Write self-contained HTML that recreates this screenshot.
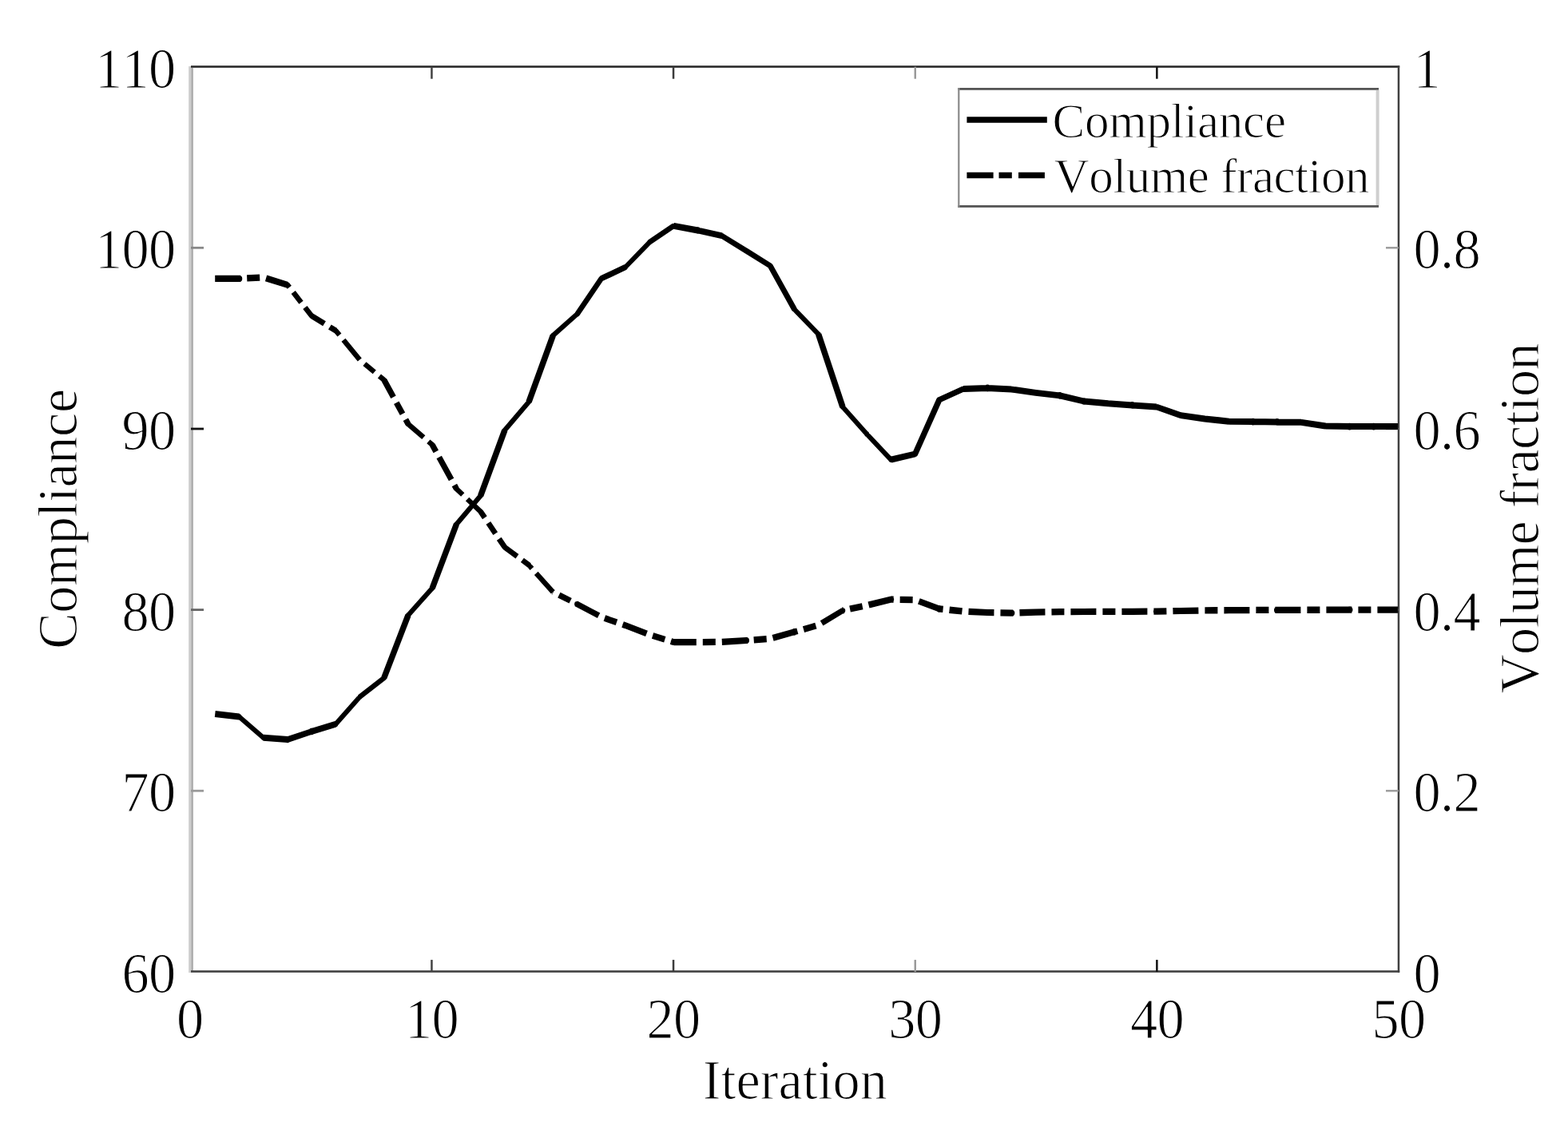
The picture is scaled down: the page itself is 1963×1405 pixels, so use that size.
<!DOCTYPE html>
<html lang="en"><head><meta charset="utf-8"><title>Compliance and volume fraction vs. iteration</title>
<style>
html,body{margin:0;padding:0;background:#fff;}
body{width:1963px;height:1405px;overflow:hidden;}
svg{display:block;position:absolute;left:0;top:0;}
text{font-family:"Liberation Serif","Times New Roman",Times,serif;fill:#000;font-kerning:none;font-variant-ligatures:none;stroke:#fff;stroke-width:1.1px;stroke-linejoin:round;paint-order:fill stroke;}
.tk{font-size:68.4px;letter-spacing:-0.7px;}
.lb{font-size:68.2px;letter-spacing:-0.3px;}
.lg{font-size:61.1px;letter-spacing:-0.3px;}
</style></head><body>
<svg width="1963" height="1405" viewBox="0 0 1963 1405" role="img" aria-label="Compliance and volume fraction versus iteration">
<rect x="0" y="0" width="1963" height="1405" fill="#ffffff"/>
<g id="plot">
<rect x="0" y="0" width="1963" height="1405" fill="#ffffff"/>
<g id="axes">
<rect x="236.2" y="83" width="3" height="1135" fill="#cdcdcd"/>
<rect x="239.2" y="85" width="2.7" height="1131" fill="#adadad"/>
<rect x="239" y="82.2" width="1513.2" height="2.6" fill="#2a2a2a"/>
<rect x="1749.7" y="82.2" width="2.5" height="1135.6" fill="#404040"/>
<rect x="239" y="1215.2" width="1513.2" height="2.6" fill="#404040"/>
</g>
<g id="ticks">
<rect x="539.2" y="1201.9" width="2.5" height="15.0" fill="#444"/>
<rect x="539.2" y="83.7" width="2.5" height="15.0" fill="#444"/>
<rect x="841.8" y="1201.9" width="2.5" height="15.0" fill="#3c3c3c"/>
<rect x="841.8" y="83.7" width="2.5" height="15.0" fill="#3c3c3c"/>
<rect x="1144.5" y="1201.9" width="2.5" height="15.0" fill="#9a9a9a"/>
<rect x="1144.5" y="83.7" width="2.5" height="15.0" fill="#9a9a9a"/>
<rect x="1447.1" y="1201.9" width="2.5" height="15.0" fill="#111"/>
<rect x="1447.1" y="83.7" width="2.5" height="15.0" fill="#111"/>
<rect x="239" y="988.9" width="16" height="2.8" fill="#9a9a9a"/>
<rect x="1735.0" y="989.1" width="16" height="2.4" fill="#9a9a9a"/>
<rect x="239" y="762.2" width="16" height="2.8" fill="#666"/>
<rect x="1735.0" y="762.4" width="16" height="2.4" fill="#666"/>
<rect x="239" y="535.6" width="16" height="2.8" fill="#111"/>
<rect x="1735.0" y="535.8" width="16" height="2.4" fill="#666"/>
<rect x="239" y="308.9" width="16" height="2.8" fill="#888"/>
<rect x="1735.0" y="309.1" width="16" height="2.4" fill="#9a9a9a"/>
</g>
<g id="curves" fill="#000" stroke="#000" stroke-linejoin="round" stroke-linecap="butt">
<path id="vol" stroke="none" d="M269.2 344.8L299.4 344.8L299.4 353.0L269.2 353.0ZM295.5 348.9a3.9 3.9 0 1 1 7.8 0a3.9 3.9 0 1 1 -7.8 0ZM299.2 344.8L301.0 344.7L301.4 353.0L299.6 353.0ZM309.0 344.3L325.0 343.5L325.4 351.8L309.4 352.6ZM334.2 344.6L361.0 352.9L358.7 360.5L331.9 352.2ZM356.8 356.7a3.1 3.1 0 1 1 6.2 0a3.1 3.1 0 1 1 -6.2 0ZM362.5 354.7L364.9 357.8L359.7 361.8L357.3 358.7ZM369.8 364.1L379.6 376.7L374.4 380.7L364.6 368.1ZM384.5 383.0L392.7 393.6L387.5 397.6L379.3 387.1ZM387.0 395.6a3.1 3.1 0 1 1 6.2 0a3.1 3.1 0 1 1 -6.2 0ZM391.9 392.6L407.9 402.3L404.2 408.3L388.3 398.6ZM414.7 406.4L422.2 411.0L418.5 417.0L411.0 412.5ZM417.3 414.0a3.0 3.0 0 1 1 6.0 0a3.0 3.0 0 1 1 -6.0 0ZM422.8 412.0L427.4 417.6L422.5 421.6L417.8 416.0ZM432.5 423.8L452.8 448.5L447.8 452.6L427.5 427.8ZM458.5 453.2L470.8 463.4L466.7 468.3L454.4 458.1ZM477.0 468.5L482.8 473.3L478.7 478.3L472.9 473.4ZM477.8 475.8a3.0 3.0 0 1 1 6.0 0a3.0 3.0 0 1 1 -6.0 0ZM484.0 474.1L495.7 495.5L489.3 499.0L477.6 477.5ZM499.5 502.5L507.2 516.5L500.8 520.0L493.1 506.0ZM511.0 523.5L514.2 529.3L507.8 532.7L504.7 527.0ZM508.0 531.0a3.0 3.0 0 1 1 5.9 0a3.0 3.0 0 1 1 -5.9 0ZM513.0 528.6L532.4 545.2L528.2 550.0L508.9 533.4ZM538.4 550.5L543.3 554.6L539.1 559.4L534.3 555.2ZM538.2 557.0a3.0 3.0 0 1 1 5.9 0a3.0 3.0 0 1 1 -5.9 0ZM544.4 555.3L549.0 563.7L542.6 567.2L538.0 558.7ZM552.9 570.7L568.3 598.8L561.9 602.3L546.5 574.2ZM572.1 605.8L574.6 610.4L568.2 613.8L565.7 609.3ZM568.5 612.1a3.0 3.0 0 1 1 5.9 0a3.0 3.0 0 1 1 -5.9 0ZM573.6 609.8L581.4 617.2L577.1 621.8L569.3 614.4ZM587.3 622.7L603.8 638.3L599.5 642.9L582.9 627.3ZM598.7 640.6a3.0 3.0 0 1 1 5.9 0a3.0 3.0 0 1 1 -5.9 0ZM604.5 638.7L609.7 646.3L604.0 650.2L598.8 642.5ZM614.2 653.0L623.1 666.2L617.4 670.1L608.5 656.8ZM627.6 672.8L634.7 683.3L629.0 687.1L621.9 676.7ZM628.7 685.2a3.1 3.1 0 1 1 6.3 0a3.1 3.1 0 1 1 -6.3 0ZM633.8 682.5L649.4 694.0L645.5 699.4L629.9 687.9ZM655.9 698.8L664.1 704.8L660.1 710.2L651.9 704.1ZM659.1 707.5a3.0 3.0 0 1 1 5.9 0a3.0 3.0 0 1 1 -5.9 0ZM664.4 705.4L668.3 709.7L663.6 713.9L659.7 709.6ZM673.6 715.7L694.7 739.2L689.9 743.4L668.9 719.9ZM694.0 738.0L694.4 738.2L691.1 744.8L690.6 744.6ZM701.5 741.8L715.8 749.0L712.5 755.6L698.2 748.4ZM723.0 752.6L724.2 753.2L720.9 759.8L719.6 759.2ZM719.1 756.5a3.4 3.4 0 1 1 6.9 0a3.4 3.4 0 1 1 -6.9 0ZM724.2 753.3L751.3 767.6L747.9 774.1L720.8 759.7ZM758.2 770.3L773.3 775.6L770.7 783.0L755.6 777.7ZM780.9 778.3L784.3 779.5L781.7 786.9L778.3 785.7ZM779.3 783.2a3.6 3.6 0 1 1 7.3 0a3.6 3.6 0 1 1 -7.3 0ZM784.3 779.6L810.9 789.8L808.1 797.0L781.6 786.8ZM818.2 792.2L833.5 796.9L831.2 804.5L815.9 799.8ZM841.1 799.3L844.6 800.3L842.2 807.9L838.8 806.8ZM839.7 804.1a3.7 3.7 0 1 1 7.5 0a3.7 3.7 0 1 1 -7.5 0ZM843.4 800.0L871.8 800.0L871.8 808.2L843.4 808.2ZM879.8 799.9L895.8 799.7L895.8 808.0L879.8 808.2ZM903.8 799.7L903.8 799.7L903.9 807.9L903.8 807.9ZM903.6 799.7L933.8 797.9L934.3 806.1L904.1 807.9ZM930.2 802.0a3.9 3.9 0 1 1 7.8 0a3.9 3.9 0 1 1 -7.8 0ZM933.8 797.9L935.4 797.7L936.0 806.0L934.4 806.1ZM943.4 797.2L959.4 796.0L960.0 804.3L944.0 805.4ZM966.5 795.0L993.4 787.5L995.6 795.1L968.6 802.7ZM990.7 791.3a3.8 3.8 0 1 1 7.5 0a3.8 3.8 0 1 1 -7.5 0ZM993.4 787.5L997.3 786.4L999.4 794.0L995.6 795.1ZM1004.9 784.2L1020.3 779.8L1022.5 787.5L1007.1 791.9ZM1026.8 777.3L1053.1 761.5L1056.8 767.5L1030.5 783.4ZM1051.6 764.5a3.3 3.3 0 1 1 6.7 0a3.3 3.3 0 1 1 -6.7 0ZM1054.1 760.5L1055.4 760.3L1057.1 768.2L1055.8 768.5ZM1063.2 758.6L1078.9 755.3L1080.5 763.2L1064.9 766.5ZM1086.5 753.6L1114.4 746.7L1116.4 754.5L1088.5 761.4ZM1111.6 750.6a3.8 3.8 0 1 1 7.6 0a3.8 3.8 0 1 1 -7.6 0ZM1115.5 746.5L1118.7 746.5L1118.6 754.8L1115.3 754.7ZM1126.7 746.7L1142.7 747.0L1142.6 755.3L1126.6 755.0ZM1151.7 749.3L1177.2 758.8L1174.5 766.0L1149.0 756.6ZM1172.2 762.4a3.7 3.7 0 1 1 7.3 0a3.7 3.7 0 1 1 -7.3 0ZM1176.3 758.3L1181.0 758.8L1180.2 767.0L1175.4 766.5ZM1189.0 759.6L1204.9 761.3L1204.0 769.5L1188.1 767.9ZM1212.7 761.8L1236.5 762.9L1236.1 771.1L1212.3 770.0ZM1232.4 767.0a3.9 3.9 0 1 1 7.8 0a3.9 3.9 0 1 1 -7.8 0ZM1236.3 762.9L1244.5 763.0L1244.4 771.3L1236.2 771.1ZM1252.5 763.2L1266.6 763.5L1266.4 771.7L1252.4 771.5ZM1262.6 767.6a3.9 3.9 0 1 1 7.8 0a3.9 3.9 0 1 1 -7.8 0ZM1266.3 763.5L1268.3 763.4L1268.6 771.7L1266.6 771.7ZM1276.3 763.1L1296.6 762.5L1296.8 770.7L1276.6 771.4ZM1292.8 766.6a3.9 3.9 0 1 1 7.8 0a3.9 3.9 0 1 1 -7.8 0ZM1296.6 762.5L1308.4 762.3L1308.5 770.6L1296.8 770.7ZM1316.4 762.2L1326.9 762.1L1327.0 770.3L1316.5 770.5ZM1323.0 766.2a3.9 3.9 0 1 1 7.8 0a3.9 3.9 0 1 1 -7.8 0ZM1326.9 762.1L1332.4 762.0L1332.4 770.3L1326.9 770.3ZM1340.4 762.0L1357.1 761.9L1357.2 770.1L1340.4 770.3ZM1353.2 766.0a3.9 3.9 0 1 1 7.8 0a3.9 3.9 0 1 1 -7.8 0ZM1357.1 761.9L1372.4 761.8L1372.4 770.1L1357.2 770.1ZM1380.4 761.8L1387.3 761.8L1387.4 770.0L1380.4 770.1ZM1383.5 765.9a3.9 3.9 0 1 1 7.8 0a3.9 3.9 0 1 1 -7.8 0ZM1387.3 761.8L1396.4 761.7L1396.4 770.0L1387.4 770.0ZM1404.4 761.7L1417.6 761.7L1417.6 769.9L1404.4 770.0ZM1413.7 765.8a3.9 3.9 0 1 1 7.8 0a3.9 3.9 0 1 1 -7.8 0ZM1417.6 761.7L1436.4 761.5L1436.4 769.8L1417.6 769.9ZM1444.4 761.5L1447.8 761.5L1447.8 769.7L1444.4 769.8ZM1443.9 765.6a3.9 3.9 0 1 1 7.8 0a3.9 3.9 0 1 1 -7.8 0ZM1447.7 761.5L1460.3 761.2L1460.5 769.5L1447.9 769.7ZM1468.3 761.0L1477.9 760.9L1478.1 769.1L1468.5 769.3ZM1474.1 765.0a3.9 3.9 0 1 1 7.8 0a3.9 3.9 0 1 1 -7.8 0ZM1477.9 760.9L1500.3 760.4L1500.5 768.7L1478.1 769.1ZM1508.4 760.2L1524.4 760.1L1524.4 768.4L1508.4 768.5ZM1532.4 760.1L1538.4 760.1L1538.5 768.3L1532.4 768.4ZM1534.6 764.2a3.9 3.9 0 1 1 7.8 0a3.9 3.9 0 1 1 -7.8 0ZM1538.4 760.1L1564.4 759.9L1564.4 768.2L1538.5 768.3ZM1572.4 759.8L1588.4 759.8L1588.4 768.1L1572.4 768.1ZM1596.4 759.8L1598.9 759.8L1598.9 768.0L1596.4 768.1ZM1595.0 763.9a3.9 3.9 0 1 1 7.8 0a3.9 3.9 0 1 1 -7.8 0ZM1598.9 759.8L1628.4 759.7L1628.4 768.0L1598.9 768.0ZM1636.4 759.6L1652.4 759.6L1652.4 767.9L1636.4 767.9ZM1660.4 759.5L1689.5 759.5L1689.6 767.7L1660.4 767.8ZM1685.7 763.6a3.9 3.9 0 1 1 7.8 0a3.9 3.9 0 1 1 -7.8 0ZM1689.6 759.5L1692.4 759.5L1692.4 767.8L1689.6 767.8ZM1700.4 759.5L1716.4 759.5L1716.4 767.8L1700.4 767.8ZM1724.4 759.5L1750.0 759.5L1750.0 767.8L1724.4 767.8Z"/>
<path id="comp" stroke="none" d="M269.7 890.1L299.9 893.6L299.0 901.4L268.8 897.9ZM296.6 897.5a2.9 2.9 0 1 1 5.7 0a2.9 2.9 0 1 1 -5.7 0ZM301.4 895.2L331.7 921.4L327.7 926.0L297.4 899.8ZM326.8 923.7a2.9 2.9 0 1 1 5.7 0a2.9 2.9 0 1 1 -5.7 0ZM330.0 919.7L360.2 922.1L359.6 930.1L329.3 927.7ZM356.3 926.1a3.6 3.6 0 1 1 7.1 0a3.6 3.6 0 1 1 -7.1 0ZM358.7 922.5L388.9 912.4L391.3 919.6L361.1 929.7ZM386.5 916.0a3.6 3.6 0 1 1 7.1 0a3.6 3.6 0 1 1 -7.1 0ZM389.0 912.3L419.2 903.1L421.4 910.5L391.2 919.7ZM417.5 906.8a2.9 2.9 0 1 1 5.7 0a2.9 2.9 0 1 1 -5.7 0ZM418.0 904.8L448.3 870.6L452.8 874.6L422.6 908.8ZM447.7 872.6a2.9 2.9 0 1 1 5.7 0a2.9 2.9 0 1 1 -5.7 0ZM448.6 870.1L478.8 846.4L482.7 851.4L452.5 875.1ZM477.8 848.9a3.0 3.0 0 1 1 5.9 0a3.0 3.0 0 1 1 -5.9 0ZM477.3 847.6L507.5 769.1L514.5 771.7L484.2 850.2ZM508.1 770.4a2.9 2.9 0 1 1 5.7 0a2.9 2.9 0 1 1 -5.7 0ZM508.7 768.4L538.9 734.5L543.5 738.5L513.2 772.4ZM538.3 736.5a2.9 2.9 0 1 1 5.7 0a2.9 2.9 0 1 1 -5.7 0ZM537.7 735.2L567.9 655.2L574.9 657.8L544.7 737.8ZM568.6 656.5a2.9 2.9 0 1 1 5.7 0a2.9 2.9 0 1 1 -5.7 0ZM569.1 654.5L599.3 618.8L604.0 622.8L573.8 658.5ZM598.8 620.8a2.9 2.9 0 1 1 5.7 0a2.9 2.9 0 1 1 -5.7 0ZM598.1 619.5L628.3 537.5L635.4 540.1L605.2 622.1ZM629.0 538.8a2.9 2.9 0 1 1 5.7 0a2.9 2.9 0 1 1 -5.7 0ZM629.5 536.8L659.8 501.2L664.4 505.2L634.2 540.8ZM659.2 503.2a2.9 2.9 0 1 1 5.7 0a2.9 2.9 0 1 1 -5.7 0ZM658.5 501.9L688.8 418.8L695.8 421.4L665.6 504.5ZM689.4 420.1a2.9 2.9 0 1 1 5.7 0a2.9 2.9 0 1 1 -5.7 0ZM690.3 417.8L720.5 391.0L724.5 395.6L694.3 422.4ZM719.7 393.3a2.9 2.9 0 1 1 5.7 0a2.9 2.9 0 1 1 -5.7 0ZM719.8 391.4L750.0 346.9L755.5 350.7L725.3 395.2ZM749.6 348.8a3.1 3.1 0 1 1 6.2 0a3.1 3.1 0 1 1 -6.2 0ZM751.2 345.5L781.4 331.2L784.5 337.8L754.3 352.1ZM780.1 334.5a2.9 2.9 0 1 1 5.7 0a2.9 2.9 0 1 1 -5.7 0ZM780.8 332.4L811.0 301.2L815.4 305.4L785.1 336.6ZM810.3 303.3a2.9 2.9 0 1 1 5.7 0a2.9 2.9 0 1 1 -5.7 0ZM811.3 300.6L841.5 280.1L845.3 285.5L815.0 306.0ZM840.3 282.8a3.1 3.1 0 1 1 6.2 0a3.1 3.1 0 1 1 -6.2 0ZM844.1 278.9L874.3 284.6L872.9 292.4L842.7 286.7ZM870.0 288.5a3.7 3.7 0 1 1 7.3 0a3.7 3.7 0 1 1 -7.3 0ZM874.5 284.7L904.7 291.5L903.0 299.1L872.8 292.3ZM900.6 295.3a3.2 3.2 0 1 1 6.4 0a3.2 3.2 0 1 1 -6.4 0ZM905.6 292.4L935.8 311.1L932.3 316.9L902.1 298.2ZM930.9 314.0a3.2 3.2 0 1 1 6.4 0a3.2 3.2 0 1 1 -6.4 0ZM935.9 311.1L966.1 330.0L962.5 335.8L932.3 316.9ZM961.1 332.9a3.2 3.2 0 1 1 6.4 0a3.2 3.2 0 1 1 -6.4 0ZM967.3 331.2L997.6 385.7L991.4 389.1L961.2 334.6ZM991.6 387.4a2.9 2.9 0 1 1 5.7 0a2.9 2.9 0 1 1 -5.7 0ZM996.7 385.3L1026.9 416.5L1022.5 420.7L992.3 389.5ZM1021.9 418.6a2.9 2.9 0 1 1 5.7 0a2.9 2.9 0 1 1 -5.7 0ZM1028.3 417.4L1058.5 508.3L1051.3 510.7L1021.1 419.8ZM1052.1 509.5a2.9 2.9 0 1 1 5.7 0a2.9 2.9 0 1 1 -5.7 0ZM1057.2 507.5L1087.4 541.5L1082.9 545.5L1052.7 511.5ZM1082.3 543.5a2.9 2.9 0 1 1 5.7 0a2.9 2.9 0 1 1 -5.7 0ZM1087.4 541.4L1117.6 573.5L1113.2 577.7L1082.9 545.6ZM1112.5 575.6a2.9 2.9 0 1 1 5.7 0a2.9 2.9 0 1 1 -5.7 0ZM1114.5 571.8L1144.7 564.7L1146.5 572.3L1116.3 579.4ZM1142.2 568.5a3.4 3.4 0 1 1 6.9 0a3.4 3.4 0 1 1 -6.9 0ZM1142.3 567.0L1172.5 499.2L1179.2 502.2L1148.9 570.0ZM1172.4 500.7a3.4 3.4 0 1 1 6.8 0a3.4 3.4 0 1 1 -6.8 0ZM1174.3 497.4L1204.5 483.7L1207.5 490.3L1177.3 504.0ZM1202.6 487.0a3.4 3.4 0 1 1 6.8 0a3.4 3.4 0 1 1 -6.8 0ZM1205.9 483.0L1236.1 482.0L1236.4 490.0L1206.2 491.0ZM1232.5 486.0a3.8 3.8 0 1 1 7.5 0a3.8 3.8 0 1 1 -7.5 0ZM1236.5 482.0L1266.7 483.6L1266.3 491.6L1236.0 490.0ZM1262.8 487.6a3.7 3.7 0 1 1 7.4 0a3.7 3.7 0 1 1 -7.4 0ZM1267.0 483.7L1297.2 487.9L1296.2 495.7L1265.9 491.5ZM1293.0 491.8a3.7 3.7 0 1 1 7.4 0a3.7 3.7 0 1 1 -7.4 0ZM1297.2 487.9L1327.4 491.5L1326.5 499.3L1296.2 495.7ZM1323.3 495.4a3.7 3.7 0 1 1 7.3 0a3.7 3.7 0 1 1 -7.3 0ZM1327.8 491.6L1358.0 498.7L1356.2 506.3L1326.0 499.2ZM1353.5 502.5a3.7 3.7 0 1 1 7.3 0a3.7 3.7 0 1 1 -7.3 0ZM1357.5 498.5L1387.7 501.3L1387.0 509.3L1356.8 506.5ZM1383.6 505.3a3.7 3.7 0 1 1 7.5 0a3.7 3.7 0 1 1 -7.5 0ZM1387.6 501.3L1417.9 503.4L1417.3 511.4L1387.1 509.3ZM1413.8 507.4a3.8 3.8 0 1 1 7.5 0a3.8 3.8 0 1 1 -7.5 0ZM1417.9 503.4L1448.1 505.5L1447.5 513.5L1417.3 511.4ZM1444.3 509.5a3.5 3.5 0 1 1 7.1 0a3.5 3.5 0 1 1 -7.1 0ZM1449.1 505.9L1479.3 516.6L1476.8 523.8L1446.5 513.1ZM1474.5 520.2a3.5 3.5 0 1 1 7.1 0a3.5 3.5 0 1 1 -7.1 0ZM1478.6 516.3L1508.8 520.6L1507.7 528.4L1477.5 524.1ZM1504.5 524.5a3.7 3.7 0 1 1 7.4 0a3.7 3.7 0 1 1 -7.4 0ZM1508.7 520.5L1538.9 523.7L1538.0 531.7L1507.8 528.5ZM1534.7 527.7a3.7 3.7 0 1 1 7.5 0a3.7 3.7 0 1 1 -7.5 0ZM1538.5 523.7L1568.7 524.1L1568.6 532.1L1538.4 531.7ZM1564.9 528.1a3.8 3.8 0 1 1 7.5 0a3.8 3.8 0 1 1 -7.5 0ZM1568.7 524.1L1598.9 524.4L1598.9 532.4L1568.6 532.1ZM1595.1 528.4a3.8 3.8 0 1 1 7.5 0a3.8 3.8 0 1 1 -7.5 0ZM1599.0 524.4L1629.2 524.8L1629.1 532.8L1598.8 532.4ZM1625.4 528.8a3.7 3.7 0 1 1 7.4 0a3.7 3.7 0 1 1 -7.4 0ZM1629.7 524.9L1659.9 529.6L1658.7 537.4L1628.5 532.7ZM1655.6 533.5a3.7 3.7 0 1 1 7.4 0a3.7 3.7 0 1 1 -7.4 0ZM1659.4 529.5L1689.6 530.1L1689.5 538.1L1659.3 537.5ZM1685.8 534.1a3.8 3.8 0 1 1 7.5 0a3.8 3.8 0 1 1 -7.5 0ZM1689.6 530.1L1719.8 530.1L1719.8 538.1L1689.6 538.1ZM1716.0 534.1a3.8 3.8 0 1 1 7.5 0a3.8 3.8 0 1 1 -7.5 0ZM1719.8 530.1L1750.0 530.1L1750.0 538.1L1719.8 538.1Z"/>
</g>
<g id="ticklabels" class="tk">
<text class="tk" transform="translate(219.5 1242.9) scale(1 1.045)" text-anchor="end">60</text>
<text class="tk" transform="translate(219.5 1016.3) scale(1 1.045)" text-anchor="end">70</text>
<text class="tk" transform="translate(219.5 789.6) scale(1 1.045)" text-anchor="end">80</text>
<text class="tk" transform="translate(219.5 563.0) scale(1 1.045)" text-anchor="end">90</text>
<text class="tk" transform="translate(219.5 336.3) scale(1 1.045)" text-anchor="end">100</text>
<text class="tk" transform="translate(219.5 109.7) scale(1 1.045)" text-anchor="end">110</text>
<text class="tk" transform="translate(1769.5 1242.9) scale(1 1.045)" text-anchor="start">0</text>
<text class="tk" transform="translate(1769.5 1016.3) scale(1 1.045)" text-anchor="start">0.2</text>
<text class="tk" transform="translate(1769.5 789.6) scale(1 1.045)" text-anchor="start">0.4</text>
<text class="tk" transform="translate(1769.5 563.0) scale(1 1.045)" text-anchor="start">0.6</text>
<text class="tk" transform="translate(1769.5 336.3) scale(1 1.045)" text-anchor="start">0.8</text>
<text class="tk" transform="translate(1769.5 109.7) scale(1 1.045)" text-anchor="start">1</text>
<text class="tk" transform="translate(237.8 1299.6) scale(1 1.045)" text-anchor="middle">0</text>
<text class="tk" transform="translate(540.4 1299.6) scale(1 1.045)" text-anchor="middle">10</text>
<text class="tk" transform="translate(843.1 1299.6) scale(1 1.045)" text-anchor="middle">20</text>
<text class="tk" transform="translate(1145.7 1299.6) scale(1 1.045)" text-anchor="middle">30</text>
<text class="tk" transform="translate(1448.4 1299.6) scale(1 1.045)" text-anchor="middle">40</text>
<text class="tk" transform="translate(1751.0 1299.6) scale(1 1.045)" text-anchor="middle">50</text>
</g>
<g id="axlabels">
<text class="lb" style="letter-spacing:0px" transform="translate(995.3 1376.1) scale(1 1.01)" text-anchor="middle">Iteration</text>
<text class="lb" style="letter-spacing:-0.4px" transform="translate(96.0 650) rotate(-90) scale(1 1.01)" text-anchor="middle">Compliance</text>
<text class="lb" style="letter-spacing:-0.7px" transform="translate(1926.2 649.3) rotate(-90) scale(1 1.01)" text-anchor="middle">Volume fraction</text>
</g>
<g id="legend">
<rect x="1200" y="111" width="525" height="147.5" fill="#fff"/>
<rect x="1199.2" y="110" width="526.8" height="2.8" fill="#555"/>
<rect x="1199.2" y="257" width="526.8" height="2.8" fill="#555"/>
<rect x="1199.2" y="110" width="2.2" height="149.8" fill="#8a8a8a"/>
<rect x="1722.6" y="112.8" width="4" height="144.2" fill="#cfcfcf"/>
<line x1="1210.4" y1="150.0" x2="1310.8" y2="150.0" stroke="#000" stroke-width="7.4"/>
<path d="M1210.4 219.5H1243.6M1250.5 219.5H1266.8M1275 219.5H1307.9" fill="none" stroke="#000" stroke-width="7.4"/>
<text class="lg" transform="translate(1317.5 171.9) scale(1 1.0)">Compliance</text>
<text class="lg" style="letter-spacing:-0.5px" transform="translate(1319.6 240.6) scale(1 1.0)">Volume fraction</text>
</g>
</g>
</svg>
</body></html>
